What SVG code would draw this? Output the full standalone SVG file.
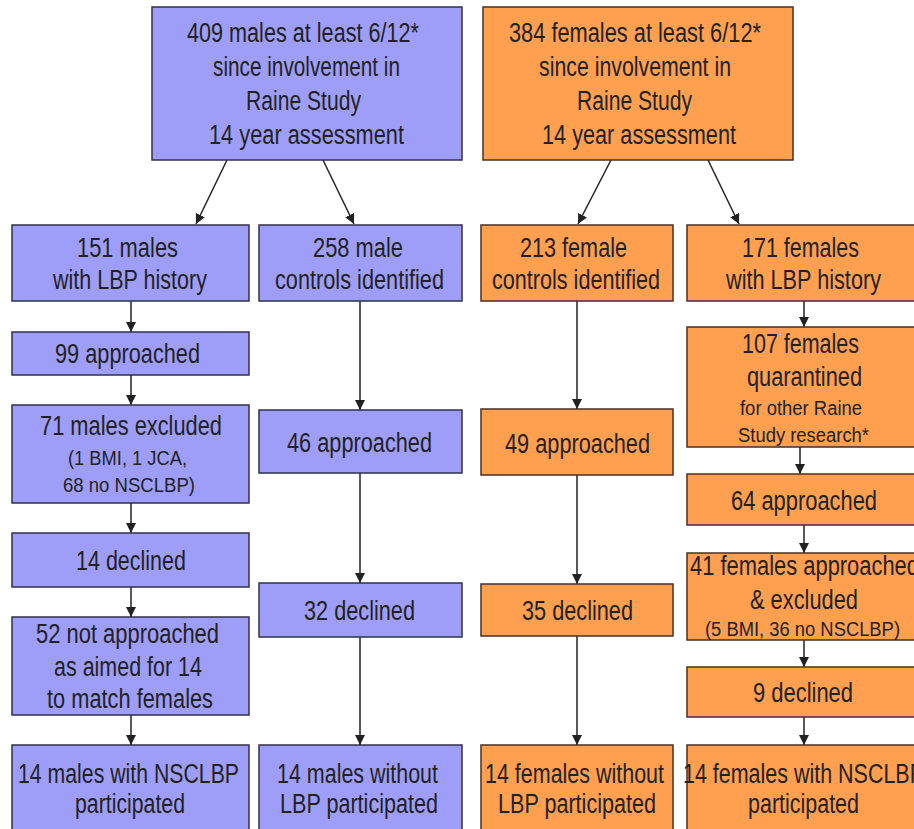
<svg xmlns="http://www.w3.org/2000/svg" width="914" height="829" viewBox="0 0 914 829">
<defs>
<style>
.m{fill:#9e9ef8;stroke:#30304a;stroke-width:1.5}
.f{fill:#ffa050;stroke:#4a3020;stroke-width:1.5}
text{font-family:"Liberation Sans",Arial,sans-serif;font-size:27px;fill:#222222}
text.s{font-size:20px}
.c line{stroke:#222222;stroke-width:1.5;marker-end:url(#ah)}
</style>
<marker id="ah" viewBox="0 0 10 10" refX="10" refY="5" markerWidth="10" markerHeight="10" markerUnits="userSpaceOnUse" orient="auto">
<path d="M0,0 L10,5 L0,10 z" fill="#222222"/>
</marker>
</defs>
<rect width="914" height="829" fill="#ffffff"/>

<g class="c" id="connectors">
<line x1="227" y1="160" x2="196" y2="224"/>
<line x1="323" y1="160" x2="354" y2="224"/>
<line x1="611" y1="160" x2="578" y2="224"/>
<line x1="708" y1="160" x2="739" y2="224"/>
<line x1="131" y1="301" x2="131" y2="332"/>
<line x1="131" y1="375" x2="131" y2="405"/>
<line x1="131" y1="503" x2="131" y2="533"/>
<line x1="131" y1="587" x2="131" y2="617"/>
<line x1="131" y1="715" x2="131" y2="745"/>
<line x1="360" y1="301" x2="360" y2="410"/>
<line x1="360" y1="473" x2="360" y2="583"/>
<line x1="360" y1="637" x2="360" y2="745"/>
<line x1="577" y1="301" x2="577" y2="409"/>
<line x1="577" y1="475" x2="577" y2="584"/>
<line x1="577" y1="636" x2="577" y2="745"/>
<line x1="804" y1="301" x2="804" y2="327"/>
<line x1="800" y1="447" x2="800" y2="474"/>
<line x1="804" y1="525" x2="804" y2="553"/>
<line x1="804" y1="640" x2="804" y2="667"/>
<line x1="804" y1="717" x2="804" y2="745"/>
</g>

<g id="males-total">
<rect class="m" x="152" y="7" width="310" height="153"/>
<text x="187" y="42" textLength="232" lengthAdjust="spacingAndGlyphs">409 males at least 6/12*</text>
<text x="213" y="76" textLength="187" lengthAdjust="spacingAndGlyphs">since involvement in</text>
<text x="246" y="110" textLength="115" lengthAdjust="spacingAndGlyphs">Raine Study</text>
<text x="209" y="144" textLength="195" lengthAdjust="spacingAndGlyphs">14 year assessment</text>
</g>

<g id="females-total">
<rect class="f" x="483" y="7" width="310" height="153"/>
<text x="509" y="42" textLength="252" lengthAdjust="spacingAndGlyphs">384 females at least 6/12*</text>
<text x="539" y="76" textLength="192" lengthAdjust="spacingAndGlyphs">since involvement in</text>
<text x="577" y="110" textLength="115" lengthAdjust="spacingAndGlyphs">Raine Study</text>
<text x="542" y="144" textLength="194" lengthAdjust="spacingAndGlyphs">14 year assessment</text>
</g>

<g id="males-lbp">
<rect class="m" x="12" y="225" width="237" height="76"/>
<text x="77" y="257" textLength="101" lengthAdjust="spacingAndGlyphs">151 males</text>
<text x="53" y="289" textLength="154" lengthAdjust="spacingAndGlyphs">with LBP history</text>
</g>

<g id="male-controls">
<rect class="m" x="259" y="225" width="203" height="76"/>
<text x="313" y="257" textLength="90" lengthAdjust="spacingAndGlyphs">258 male</text>
<text x="275" y="289" textLength="169" lengthAdjust="spacingAndGlyphs">controls identified</text>
</g>

<g id="female-controls">
<rect class="f" x="481" y="225" width="192" height="76"/>
<text x="520" y="257" textLength="107" lengthAdjust="spacingAndGlyphs">213 female</text>
<text x="492" y="289" textLength="168" lengthAdjust="spacingAndGlyphs">controls identified</text>
</g>

<g id="females-lbp">
<rect class="f" x="687" y="225" width="240" height="76"/>
<text x="742" y="257" textLength="117" lengthAdjust="spacingAndGlyphs">171 females</text>
<text x="726" y="289" textLength="155" lengthAdjust="spacingAndGlyphs">with LBP history</text>
</g>

<g id="m-approached-99">
<rect class="m" x="12" y="332" width="237" height="43"/>
<text x="55" y="363" textLength="145" lengthAdjust="spacingAndGlyphs">99 approached</text>
</g>

<g id="m-excluded-71">
<rect class="m" x="12" y="405" width="237" height="98"/>
<text x="40" y="435" textLength="182" lengthAdjust="spacingAndGlyphs">71 males excluded</text>
<text class="s" x="68" y="465" textLength="119" lengthAdjust="spacingAndGlyphs">(1 BMI, 1 JCA,</text>
<text class="s" x="63" y="492" textLength="132" lengthAdjust="spacingAndGlyphs">68 no NSCLBP)</text>
</g>

<g id="m-declined-14">
<rect class="m" x="12" y="533" width="237" height="54"/>
<text x="76" y="570" textLength="110" lengthAdjust="spacingAndGlyphs">14 declined</text>
</g>

<g id="m-not-approached-52">
<rect class="m" x="12" y="617" width="237" height="98"/>
<text x="36" y="643" textLength="183" lengthAdjust="spacingAndGlyphs">52 not approached</text>
<text x="54" y="676" textLength="148" lengthAdjust="spacingAndGlyphs">as aimed for 14</text>
<text x="47" y="708" textLength="166" lengthAdjust="spacingAndGlyphs">to match females</text>
</g>

<g id="m-nsclbp-participated">
<rect class="m" x="12" y="745" width="237" height="100"/>
<text x="18" y="783" textLength="221" lengthAdjust="spacingAndGlyphs">14 males with NSCLBP</text>
<text x="75" y="813" textLength="110" lengthAdjust="spacingAndGlyphs">participated</text>
</g>

<g id="mc-approached-46">
<rect class="m" x="259" y="410" width="203" height="63"/>
<text x="287" y="452" textLength="145" lengthAdjust="spacingAndGlyphs">46 approached</text>
</g>

<g id="mc-declined-32">
<rect class="m" x="259" y="583" width="203" height="54"/>
<text x="304" y="620" textLength="111" lengthAdjust="spacingAndGlyphs">32 declined</text>
</g>

<g id="mc-participated">
<rect class="m" x="259" y="745" width="203" height="100"/>
<text x="277" y="783" textLength="161" lengthAdjust="spacingAndGlyphs">14 males without</text>
<text x="280" y="813" textLength="158" lengthAdjust="spacingAndGlyphs">LBP participated</text>
</g>

<g id="fc-approached-49">
<rect class="f" x="481" y="409" width="192" height="66"/>
<text x="505" y="453" textLength="145" lengthAdjust="spacingAndGlyphs">49 approached</text>
</g>

<g id="fc-declined-35">
<rect class="f" x="481" y="584" width="192" height="52"/>
<text x="522" y="620" textLength="111" lengthAdjust="spacingAndGlyphs">35 declined</text>
</g>

<g id="fc-participated">
<rect class="f" x="481" y="745" width="192" height="100"/>
<text x="485" y="783" textLength="179" lengthAdjust="spacingAndGlyphs">14 females without</text>
<text x="498" y="813" textLength="158" lengthAdjust="spacingAndGlyphs">LBP participated</text>
</g>

<g id="f-quarantined-107">
<rect class="f" x="687" y="327" width="240" height="120"/>
<text x="742" y="353" textLength="117" lengthAdjust="spacingAndGlyphs">107 females</text>
<text x="747" y="386" textLength="115" lengthAdjust="spacingAndGlyphs">quarantined</text>
<text class="s" x="740" y="415" textLength="122" lengthAdjust="spacingAndGlyphs">for other Raine</text>
<text class="s" x="738" y="442" textLength="131" lengthAdjust="spacingAndGlyphs">Study research*</text>
</g>

<g id="f-approached-64">
<rect class="f" x="687" y="474" width="240" height="51"/>
<text x="731" y="510" textLength="146" lengthAdjust="spacingAndGlyphs">64 approached</text>
</g>

<g id="f-excluded-41">
<rect class="f" x="687" y="553" width="240" height="87"/>
<text x="690" y="575" textLength="229" lengthAdjust="spacingAndGlyphs">41 females approached</text>
<text x="750" y="609" textLength="108" lengthAdjust="spacingAndGlyphs">&amp; excluded</text>
<text class="s" x="705" y="636" textLength="195" lengthAdjust="spacingAndGlyphs">(5 BMI, 36 no NSCLBP)</text>
</g>

<g id="f-declined-9">
<rect class="f" x="687" y="667" width="240" height="50"/>
<text x="753" y="702" textLength="100" lengthAdjust="spacingAndGlyphs">9 declined</text>
</g>

<g id="f-nsclbp-participated">
<rect class="f" x="687" y="745" width="240" height="100"/>
<text x="683" y="783" textLength="241" lengthAdjust="spacingAndGlyphs">14 females with NSCLBP</text>
<text x="748" y="813" textLength="111" lengthAdjust="spacingAndGlyphs">participated</text>
</g>
</svg>
